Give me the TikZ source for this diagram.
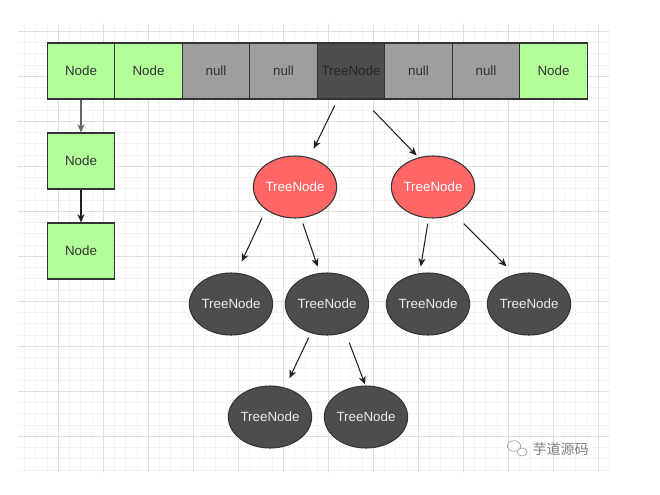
\documentclass[tikz,border=0pt]{standalone}
\usepackage{fontspec}
\setmainfont{Liberation Sans}
\newfontfamily\cjk{Noto Sans CJK SC}
\usetikzlibrary{arrows.meta,positioning,calc,shapes.geometric}

\definecolor{cellgreen}{HTML}{B3FF99}
\definecolor{nullgray}{HTML}{9E9E9E}
\definecolor{treegray}{HTML}{4D4D4D}
\definecolor{treered}{HTML}{FF6666}
\definecolor{edgeblack}{HTML}{222222}
\definecolor{gridminor}{HTML}{F4F4F4}
\definecolor{gridmajor}{HTML}{E0E0E0}

\begin{document}
\begin{tikzpicture}[x=0.03cm,y=-0.03cm,>={Stealth[length=7pt,width=6pt,inset=2pt]},
    every node/.style={draw=black!80,line width=0.9pt,inner sep=0pt,font=\fontsize{11.4}{13}\selectfont},
    cell/.style={rectangle,minimum width=2.025cm,minimum height=1.68cm,fill=cellgreen,text=black!80},
    nullcell/.style={cell,fill=nullgray},
    treecell/.style={cell,fill=treegray,text=black!85},
    rednode/.style={ellipse,minimum width=2.37cm,minimum height=1.86cm,fill=treered,text=white},
    treenode/.style={rednode,fill=treegray,text=white!92!black},
    link/.style={->,line width=0.9pt,edgeblack}]
    \fill[white] (0,0) rectangle (660,495);
    % background grid
    \foreach \i in {1,...,53}
      \draw[gridminor,line width=0.4pt] ({13+11.25*\i},23) -- ({13+11.25*\i},473);
    \foreach \i in {0,...,39}
      \draw[gridminor,line width=0.4pt] (18,{31+11.25*\i}) -- (609,{31+11.25*\i});
    \foreach \x in {58,103,...,598}
      \draw[gridmajor,line width=0.5pt] (\x,23) -- (\x,473);
    \foreach \y in {31,76,...,436}
      \draw[gridmajor,line width=0.5pt] (18,\y) -- (609,\y);

    % the table
    \node[cell] (a0) at (81,71) {Node};
    \node[cell] (a1) at (148.5,71) {Node};
    \node[nullcell] (a2) at (216,71) {null};
    \node[nullcell] (a3) at (283.5,71) {null};
    \node[treecell] (a4) at (351,71) {TreeNode};
    \node[nullcell] (a5) at (418.5,71) {null};
    \node[nullcell] (a6) at (486,71) {null};
    \node[cell] (a7) at (553.5,71) {Node};

    % linked list
    \node[cell] (l1) at (81,161) {Node};
    \node[cell] (l2) at (81,251) {Node};
    \draw[link,black!60] (a0) -- (l1);
    \draw[link] (l1) -- (l2);

    % red-black tree
    \node[rednode] (r1) at (295,187) {TreeNode};
    \node[rednode] (r2) at (433,187) {TreeNode};
    \node[treenode] (b1) at (231,304) {TreeNode};
    \node[treenode] (b2) at (327,304) {TreeNode};
    \node[treenode] (b3) at (428,304) {TreeNode};
    \node[treenode] (b4) at (529,304) {TreeNode};
    \node[treenode] (c1) at (270,417) {TreeNode};
    \node[treenode] (c2) at (366,417) {TreeNode};

    \draw[link,shorten <=0.2cm,shorten >=0.29cm] (a4.-115) -- (r1.64);
    \draw[link,shorten <=0.46cm,shorten >=0.08cm] (a4.-68) -- (r2.116);
    \draw[link,shorten <=0.27cm,shorten >=0.37cm] (r1.-142) -- (b1.80);
    \draw[link,shorten <=0.17cm,shorten >=0.2cm] (r1.-79) -- (b2.103);
    \draw[link,shorten <=0.16cm,shorten >=0.2cm] (r2.-98) -- (b3.105);
    \draw[link,shorten <=0.4cm,shorten >=0.34cm] (r2.-52) -- (b4.116);
    \draw[link,shorten <=0.15cm,shorten >=0.31cm] (b2.-119) -- (c1.63);
    \draw[link,shorten <=0.33cm,shorten >=0.03cm] (b2.-57) -- (c2.91);

    % watermark
    \draw[gray!70,line width=0.6pt] (514,446) ellipse [x radius=0.2cm,y radius=0.16cm];
    \draw[gray!70,line width=0.6pt,fill=white] (522,452) ellipse [x radius=0.15cm,y radius=0.12cm];
    \node[draw=none,anchor=west,text=gray,font=\cjk\fontsize{12}{14}\selectfont] (wm) at (532,449) {芋道源码};
  \end{tikzpicture}
\end{document}
